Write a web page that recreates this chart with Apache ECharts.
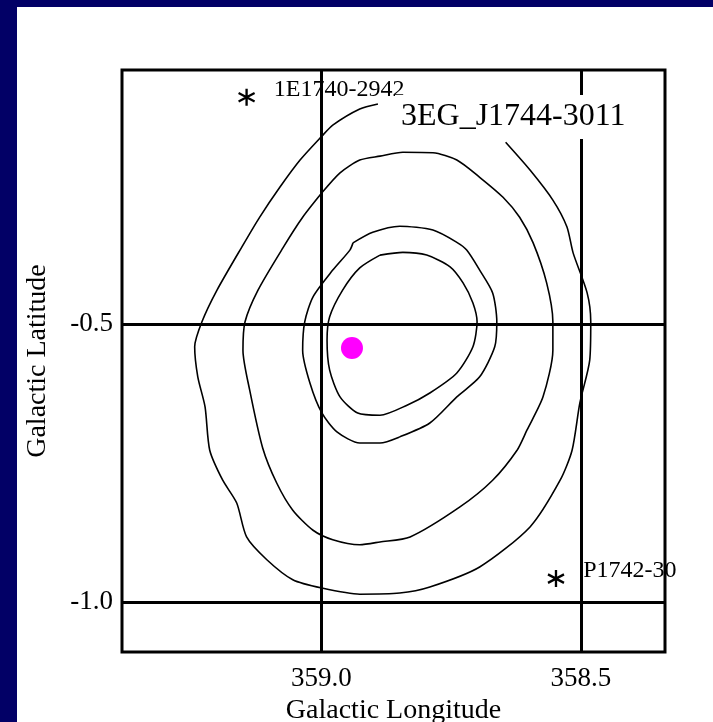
<!DOCTYPE html>
<html>
<head>
<meta charset="utf-8">
<title>3EG J1744-3011 error contours</title>
<script src="https://cdn.jsdelivr.net/npm/echarts@6/dist/echarts.min.js"></script>
<style>
  html, body { margin: 0; padding: 0; width: 713px; height: 722px; background: #020066; overflow: hidden; }
  #chart { position: absolute; left: 17px; top: 7px; width: 696px; height: 715px; }
</style>
</head>
<body>
<div id="chart"></div>
<script>
// Axis ranges (galactic coordinates, longitude runs right-to-left)
const lonRange = [358.338, 359.384];
const latRange = [-1.09, -0.043];
const lonTicks = [359.0, 358.5];
const latTicks = [-0.5, -1.0];

// Probability contours around the EGRET source, [l, b] in degrees
const contour1 = [
  [358.887, -0.376], [358.843, -0.371], [358.797, -0.376], [358.752, -0.397],
  [358.727, -0.426], [358.708, -0.462], [358.700, -0.496], [358.708, -0.541],
  [358.739, -0.588], [358.791, -0.624], [358.835, -0.646], [358.887, -0.664],
  [358.930, -0.660], [358.964, -0.631], [358.984, -0.583], [358.989, -0.529],
  [358.984, -0.487], [358.959, -0.439], [358.926, -0.399], [358.887, -0.376]
];
const contour2 = [
  [358.939, -0.354], [358.901, -0.335], [358.849, -0.324], [358.785, -0.331],
  [358.739, -0.353], [358.720, -0.367], [358.695, -0.403], [358.670, -0.444],
  [358.662, -0.496], [358.666, -0.541], [358.695, -0.595], [358.739, -0.631],
  [358.791, -0.678], [358.849, -0.703], [358.887, -0.714], [358.926, -0.714],
  [358.970, -0.694], [358.999, -0.660], [359.022, -0.606], [359.036, -0.547],
  [359.032, -0.496], [359.016, -0.451], [358.978, -0.403], [358.945, -0.367],
  [358.939, -0.354]
];
const contour3 = [
  [358.999, -0.264], [358.964, -0.228], [358.926, -0.205], [358.887, -0.198],
  [358.843, -0.191], [358.785, -0.192], [358.739, -0.205], [358.695, -0.236],
  [358.650, -0.272], [358.618, -0.308], [358.592, -0.354], [358.566, -0.426],
  [358.554, -0.496], [358.554, -0.547], [358.573, -0.631], [358.604, -0.691],
  [358.623, -0.727], [358.670, -0.781], [358.733, -0.829], [358.829, -0.883],
  [358.887, -0.892], [358.926, -0.897], [358.978, -0.888], [359.016, -0.871],
  [359.055, -0.835], [359.086, -0.786], [359.113, -0.723], [359.138, -0.619],
  [359.151, -0.547], [359.147, -0.496], [359.122, -0.439], [359.074, -0.363],
  [359.036, -0.308], [358.999, -0.264]
];
const contour4 = [
  [358.891, -0.104], [358.926, -0.113], [358.978, -0.142], [358.999, -0.162],
  [359.041, -0.205], [359.080, -0.254], [359.119, -0.308], [359.151, -0.358],
  [359.201, -0.439], [359.230, -0.496], [359.244, -0.541], [359.238, -0.595],
  [359.224, -0.649], [359.215, -0.727], [359.190, -0.781], [359.163, -0.822],
  [359.144, -0.883], [359.105, -0.924], [359.055, -0.960], [358.999, -0.975],
  [358.926, -0.986], [358.849, -0.984], [358.791, -0.973], [358.695, -0.937],
  [358.598, -0.865], [358.540, -0.781], [358.517, -0.727], [358.502, -0.642],
  [358.483, -0.565], [358.481, -0.496], [358.488, -0.444], [358.515, -0.372],
  [358.527, -0.325], [358.554, -0.277], [358.598, -0.223], [358.645, -0.173]
];

// Known sources in the field
const sourceNames = ['1E1740-2942', 'P1742-30'];
const sourceLon = [359.144, 358.548];
const sourceLat = [-0.092, -0.958];

// Candidate counterpart position
const candidateLon = [358.941];
const candidateLat = [-0.543];

const serif = '"Liberation Serif", "DejaVu Serif", serif';
const asterisk = 'path://M0,-10L0,10M-8.66,-5L8.66,5M-8.66,5L8.66,-5';

function contourSeries(points) {
  return {
    type: 'line',
    data: points,
    showSymbol: false,
    smooth: 0.25,
    silent: true,
    lineStyle: { color: '#000', width: 1.6 },
    z: 3
  };
}

const chart = echarts.init(document.getElementById('chart'), null, { renderer: 'canvas' });

chart.setOption({
  backgroundColor: '#ffffff',
  animation: false,
  title: {
    text: '3EG_J1744-3011',
    left: 378,
    top: 88,
    padding: [6, 8, 6, 6],
    backgroundColor: '#ffffff',
    textStyle: { fontFamily: serif, fontSize: 32, fontWeight: 'normal', color: '#000' }
  },
  grid: {
    left: 105, top: 63, width: 543, height: 582,
    outerBoundsMode: 'none',
    containLabel: false,
    show: true, borderColor: '#000', borderWidth: 3, backgroundColor: 'transparent'
  },
  xAxis: {
    type: 'value',
    min: lonRange[0], max: lonRange[1],
    inverse: true,
    axisLine: { show: false },
    axisTick: { show: false, customValues: lonTicks },
    splitLine: { show: false },
    axisLabel: {
      customValues: lonTicks,
      formatter: v => v.toFixed(1),
      fontFamily: serif, fontSize: 27, color: '#000', margin: 13
    },
    name: 'Galactic Longitude',
    nameLocation: 'middle',
    nameGap: 43,
    nameTextStyle: { fontFamily: serif, fontSize: 28, color: '#000' }
  },
  yAxis: {
    type: 'value',
    min: latRange[0], max: latRange[1],
    axisLine: { show: false },
    axisTick: { show: false, customValues: latTicks },
    splitLine: { show: false },
    axisLabel: {
      customValues: latTicks,
      formatter: v => v.toFixed(1),
      fontFamily: serif, fontSize: 27, color: '#000', margin: 9
    },
    name: 'Galactic Latitude',
    nameLocation: 'middle',
    nameGap: 70,
    nameTextStyle: { fontFamily: serif, fontSize: 28, color: '#000' }
  },
  series: [
    {
      // coordinate grid lines at the labelled values
      type: 'line',
      data: [],
      silent: true,
      markLine: {
        silent: true,
        symbol: 'none',
        label: { show: false },
        lineStyle: { color: '#000', width: 3, type: 'solid' },
        data: lonTicks.map(v => ({ xAxis: v })).concat(latTicks.map(v => ({ yAxis: v })))
      },
      z: 2
    },
    contourSeries(contour1),
    contourSeries(contour2),
    contourSeries(contour3),
    contourSeries(contour4),
    {
      type: 'scatter',
      data: sourceNames.map((n, i) => ({ name: n, value: [sourceLon[i], sourceLat[i]] })),
      symbol: asterisk,
      symbolSize: [16, 17],
      itemStyle: { color: 'transparent', borderColor: '#000', borderWidth: 2.4, opacity: 1 },
      label: {
        show: true,
        position: 'right',
        distance: 18,
        offset: [0, -8],
        formatter: p => p.name,
        fontFamily: serif, fontSize: 24, color: '#000'
      },
      silent: true,
      z: 5
    },
    {
      type: 'scatter',
      data: candidateLon.map((l, i) => [l, candidateLat[i]]),
      symbol: 'circle',
      symbolSize: 22,
      itemStyle: { color: '#ff00ff', opacity: 1 },
      silent: true,
      z: 6
    }
  ]
});
</script>
</body>
</html>
